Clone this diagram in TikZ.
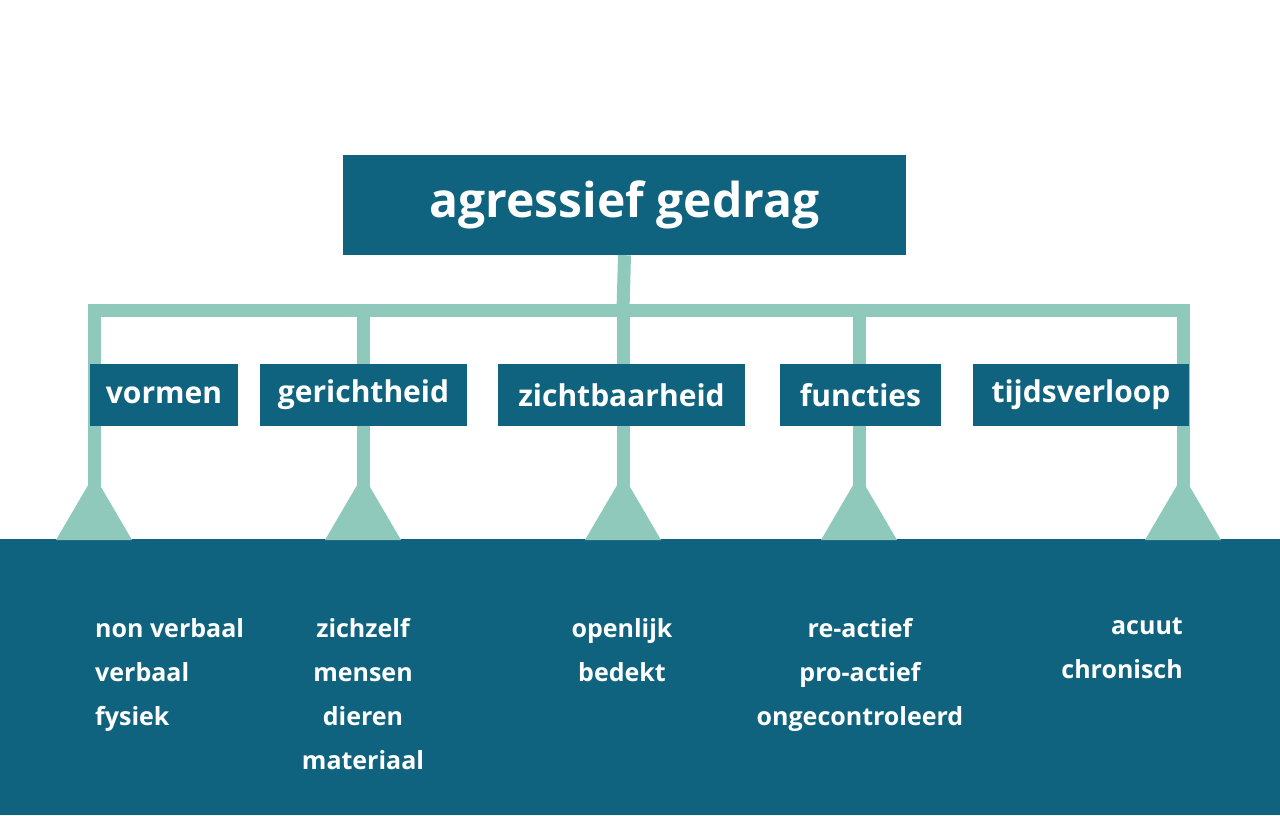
\documentclass[tikz,border=0pt]{standalone}
\usepackage{fontspec}
\setmainfont{Open Sans}
\usetikzlibrary{positioning}
\definecolor{deepteal}{HTML}{10637F}
\definecolor{mint}{HTML}{8FC9BC}
\tikzset{
  catbox/.style={fill=deepteal,text=white,font=\fontsize{30}{36}\selectfont\bfseries,minimum height=62pt,inner xsep=6pt},
  branch/.style={draw=mint,line width=13pt},
  leaf/.style={text=white,font=\fontsize{25}{44}\selectfont\bfseries,inner sep=0pt},
  tip/.style={fill=mint}
}
\begin{document}
\begin{tikzpicture}[x=1pt,y=-1pt]
\useasboundingbox (0,0) rectangle (1280,815);
\fill[white] (0,0) rectangle (1280,815);
\coordinate (hub) at (623,310);
\coordinate (left) at (94,310);
\coordinate (right) at (1183,310);
\draw[branch,line cap=rect] (left) -- (right);
\node[fill=deepteal,text=white,font=\fontsize{48}{56}\selectfont\bfseries,minimum width=563pt,minimum height=100pt] (root) at (624.5,205) {agressief gedrag};
\draw[branch] (root.south) -- (hub);
% categories
\foreach \name/\x/\cx/\w/\txt in {vorm/94/164/148/vormen, richt/363/363.5/207/gerichtheid, zicht/623/621.5/247/zichtbaarheid, func/859/860.5/161/functies, tijd/1183/1081/216/tijdsverloop}{
  \coordinate (\name top) at (\x,310);
  \coordinate (\name end) at (\x,540);
  \draw[branch] (\name top) -- (\name end);
  \node[catbox,minimum width=\w pt] (\name) at (\cx,395) {\txt};
}
\fill[deepteal] (0,539) rectangle (1280,815);
\foreach \name in {vorm,richt,zicht,func,tijd}{
  \fill[tip] ([xshift=-38pt]\name end) -- ([xshift=38pt]\name end) -- ([yshift=65pt]\name end) -- cycle;
}
% leaves
\node[leaf,align=left,anchor=north west] (vormlist) at (95,618) {non verbaal\\verbaal\\fysiek};
\node[leaf,align=center,anchor=north] (richtlist) at (363,618) {zichzelf\\mensen\\dieren\\materiaal};
\node[leaf,align=center,anchor=north] (zichtlist) at (622,618) {openlijk\\bedekt};
\node[leaf,align=center,anchor=north] (funclist) at (860,618) {re-actief\\pro-actief\\ongecontroleerd};
\node[leaf,align=right,anchor=north east] (tijdlist) at (1183,618) {acuut\\chronisch};
\end{tikzpicture}
\end{document}
